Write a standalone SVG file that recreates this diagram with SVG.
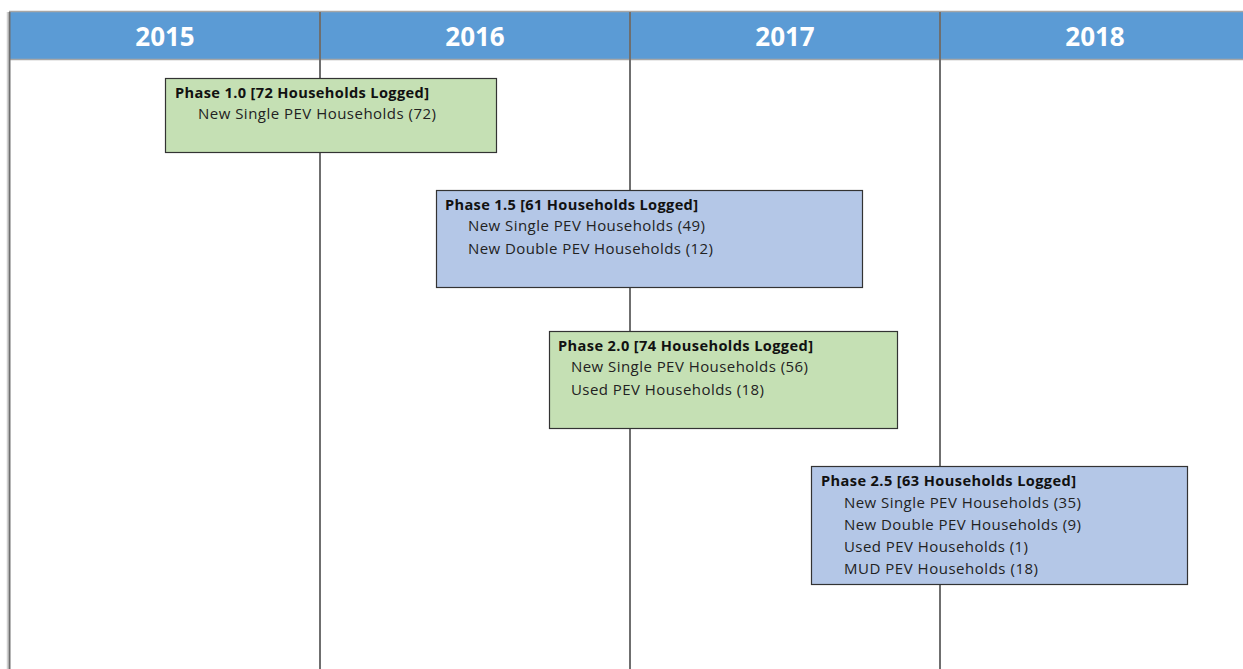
<svg xmlns="http://www.w3.org/2000/svg" width="1243" height="669" viewBox="0 0 1243 669">
<style>
.yr{font-family:"Open Sans","Liberation Sans",sans-serif;font-weight:bold;font-size:26px;fill:#fff;text-anchor:middle}
.t{font-family:"Open Sans","Liberation Sans",sans-serif;font-weight:bold;font-size:14.6px;fill:#111}
.s{font-family:"Open Sans","Liberation Sans",sans-serif;font-size:15px;fill:#222}
.g{fill:#c5e0b4;stroke:#333;stroke-width:1.2}
.b{fill:#b4c7e7;stroke:#333;stroke-width:1.2}
.ln{stroke:#6f6f6f;stroke-width:2}
</style>
<rect width="1243" height="669" fill="#fff"/>
<g id="header">
<rect x="9" y="12" width="1234" height="47" fill="#5b9bd5"/>
<line x1="9" y1="11.5" x2="1243" y2="11.5" stroke="#a6a6a6" stroke-width="1.5"/>
<line x1="9" y1="59.5" x2="1243" y2="59.5" stroke="#a6a6a6" stroke-width="1.5"/>
<text class="yr" x="165" y="46">2015</text>
<text class="yr" x="475" y="46">2016</text>
<text class="yr" x="785" y="46">2017</text>
<text class="yr" x="1095" y="46">2018</text>
</g>
<g id="gridlines">
<line x1="7.5" y1="12" x2="7.5" y2="669" stroke="#d0d0d0" stroke-width="1.5"/>
<line class="ln" x1="9.5" y1="12" x2="9.5" y2="669"/>
<line class="ln" x1="320" y1="12" x2="320" y2="669"/>
<line class="ln" x1="630" y1="12" x2="630" y2="669"/>
<line class="ln" x1="940" y1="12" x2="940" y2="669"/>
</g>
<g id="phase10">
<rect class="g" x="165.5" y="78.5" width="331" height="74"/>
<text class="t" x="175" y="98" textLength="254">Phase 1.0 [72 Households Logged]</text>
<text class="s" x="198" y="119" textLength="238">New Single PEV Households (72)</text>
</g>
<g id="phase15">
<rect class="b" x="436.5" y="190.5" width="426" height="97"/>
<text class="t" x="445" y="210" textLength="253">Phase 1.5 [61 Households Logged]</text>
<text class="s" x="468" y="231" textLength="237">New Single PEV Households (49)</text>
<text class="s" x="468" y="254" textLength="245">New Double PEV Households (12)</text>
</g>
<g id="phase20">
<rect class="g" x="549.5" y="331.5" width="348" height="97"/>
<text class="t" x="558" y="351" textLength="255">Phase 2.0 [74 Households Logged]</text>
<text class="s" x="571" y="372" textLength="237">New Single PEV Households (56)</text>
<text class="s" x="571" y="395" textLength="193">Used PEV Households (18)</text>
</g>
<g id="phase25">
<rect class="b" x="811.5" y="466.5" width="376" height="118"/>
<text class="t" x="821" y="486" textLength="255">Phase 2.5 [63 Households Logged]</text>
<text class="s" x="844" y="508" textLength="237">New Single PEV Households (35)</text>
<text class="s" x="844" y="530" textLength="237">New Double PEV Households (9)</text>
<text class="s" x="844" y="552" textLength="184">Used PEV Households (1)</text>
<text class="s" x="844" y="574" textLength="194">MUD PEV Households (18)</text>
</g>
</svg>
